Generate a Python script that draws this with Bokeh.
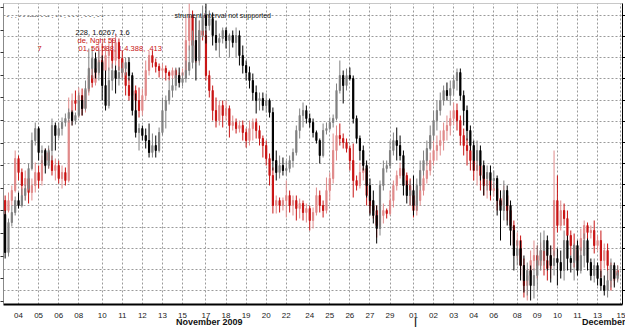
from bokeh.plotting import figure
from bokeh.models import Range1d, LinearAxis, FixedTicker, ColumnDataSource
from bokeh.core.properties import value
from bokeh.embed import file_html
from bokeh.resources import INLINE

# ---- data (prices in 1e-4 units, 4-hour bars, Nov 3 - Dec 14 2009) ----
session_days = ["03", "04", "05", "06", "08", "09", "10", "11", "12", "13", "15", "16",
                "17", "18", "19", "20", "22", "23", "24", "25", "26", "27", "29", "30",
                "01", "02", "03", "04", "06", "07", "08", "09", "10", "11", "13", "14", "15"]
bars_per_day = [4, 6, 6, 6, 1, 6, 6, 6, 6, 6, 1, 6, 6, 6, 6, 6, 1, 6, 6, 6, 6, 6, 1, 6,
                6, 6, 6, 6, 1, 6, 6, 6, 6, 6, 1, 6, 0]
month_labels = ["November 2009", "|", "December"]

# black instrument (right axis)
black_open = [16386,16348,16378,16388,16400,16395,16405,16412,16432,16460,
16472,16448,16450,16435,16450,16475,16465,16472,16478,16482,
16488,16480,16485,16500,16492,16512,16532,16542,16528,16538,
16515,16495,16520,16530,16522,16528,16532,16538,16525,16490,
16468,16472,16465,16460,16448,16455,16450,16468,16490,16500,
16510,16515,16525,16518,16522,16530,16538,16560,16540,16570,
16585,16575,16582,16565,16558,16562,16570,16560,16565,16558,
16565,16545,16535,16528,16520,16508,16500,16502,16495,16500,
16488,16440,16428,16435,16430,16432,16440,16448,16470,16485,
16490,16482,16478,16468,16460,16445,16470,16472,16478,16482,
16510,16525,16515,16525,16522,16482,16462,16450,16435,16415,
16400,16385,16372,16415,16432,16435,16450,16460,16455,16445,
16415,16405,16410,16395,16415,16430,16440,16452,16465,16480,
16490,16500,16510,16505,16512,16520,16528,16505,16490,16470,
16455,16440,16450,16435,16422,16428,16420,16422,16400,16390,
16410,16395,16370,16345,16352,16335,16320,16330,16315,16325,
16340,16350,16360,16345,16335,16342,16338,16330,16360,16342,
16338,16355,16330,16345,16360,16338,16325,16335,16322,16315,
16310,16320,16335,16322]
black_high = [16390,16382,16395,16404,16408,16412,16416,16437,16468,16478,
16474,16455,16452,16455,16482,16478,16478,16483,16487,16492,
16490,16488,16508,16505,16520,16552,16553,16548,16550,16545,
16530,16533,16537,16535,16534,16538,16543,16543,16528,16507,
16477,16475,16472,16477,16467,16465,16473,16503,16505,16520,
16522,16533,16533,16528,16540,16555,16570,16583,16580,16595,
16597,16590,16588,16580,16567,16573,16573,16567,16570,16573,
16570,16555,16540,16534,16527,16515,16508,16508,16507,16502,
16493,16450,16445,16443,16440,16445,16452,16475,16492,16498,
16495,16487,16482,16470,16462,16477,16478,16483,16486,16517,
16540,16530,16532,16533,16525,16485,16465,16455,16440,16422,
16410,16395,16420,16440,16440,16460,16468,16473,16465,16450,
16420,16420,16425,16422,16440,16450,16460,16475,16490,16500,
16508,16515,16518,16520,16525,16532,16532,16510,16495,16475,
16460,16460,16455,16440,16435,16435,16430,16425,16410,16420,
16415,16400,16375,16360,16360,16345,16338,16335,16332,16355,
16368,16370,16365,16355,16350,16352,16350,16370,16365,16345,
16357,16360,16353,16367,16362,16342,16342,16338,16330,16325,
16330,16342,16338,16335]
black_low = [16342,16344,16374,16385,16392,16393,16400,16410,16430,16455,
16440,16437,16427,16432,16440,16450,16462,16465,16474,16478,
16475,16476,16483,16485,16490,16508,16522,16522,16520,16500,
16490,16492,16510,16507,16515,16520,16525,16520,16485,16463,
16450,16460,16452,16443,16443,16443,16448,16465,16472,16496,
16503,16510,16513,16514,16518,16525,16532,16520,16535,16563,
16557,16570,16555,16550,16543,16557,16552,16543,16553,16543,
16535,16527,16520,16512,16500,16487,16490,16490,16488,16483,
16430,16420,16422,16425,16425,16428,16433,16445,16462,16473,
16477,16473,16463,16457,16437,16443,16466,16470,16473,16480,
16507,16497,16510,16520,16477,16457,16440,16430,16403,16385,
16377,16357,16365,16410,16428,16432,16445,16440,16440,16405,
16397,16395,16385,16390,16410,16425,16435,16450,16460,16470,
16485,16495,16500,16495,16505,16510,16500,16475,16460,16450,
16430,16430,16420,16405,16410,16405,16412,16385,16360,16380,
16375,16355,16330,16335,16320,16308,16305,16300,16302,16310,
16330,16335,16330,16318,16325,16315,16322,16320,16330,16328,
16320,16325,16327,16333,16330,16320,16318,16315,16310,16305,
16303,16313,16313,16318]
black_close = [16348,16378,16388,16400,16395,16405,16412,16432,16460,16472,
16448,16450,16435,16450,16475,16465,16472,16478,16482,16488,
16480,16485,16500,16492,16512,16532,16542,16528,16538,16515,
16495,16520,16530,16522,16528,16532,16538,16525,16490,16468,
16472,16465,16460,16448,16455,16450,16468,16490,16500,16510,
16515,16525,16518,16522,16530,16538,16560,16540,16570,16585,
16575,16582,16565,16558,16562,16570,16560,16565,16558,16565,
16545,16535,16528,16520,16508,16500,16502,16495,16500,16488,
16440,16428,16435,16430,16432,16440,16448,16470,16485,16490,
16482,16478,16468,16460,16445,16470,16472,16478,16482,16510,
16525,16515,16525,16522,16482,16462,16450,16435,16415,16400,
16385,16372,16415,16432,16435,16450,16460,16455,16445,16415,
16405,16410,16395,16415,16430,16440,16452,16465,16480,16490,
16500,16510,16505,16512,16520,16528,16505,16490,16470,16455,
16440,16450,16435,16422,16428,16420,16422,16400,16390,16410,
16395,16370,16345,16352,16335,16320,16330,16315,16325,16340,
16350,16360,16345,16335,16342,16338,16330,16360,16342,16338,
16355,16330,16345,16360,16338,16325,16335,16322,16315,16310,
16320,16335,16322,16328]

# red instrument (left axis)
red_open = [14800,14790,14800,14810,14842,14828,14815,14822,14808,14815,
14828,14820,14840,14848,14840,14830,14835,14822,14828,14820,
14880,14900,14897,14905,14892,14910,14925,14918,14932,14940,
14930,14945,14950,14940,14958,14942,14928,14915,14905,14910,
14900,14890,14905,14930,14945,14938,14934,14930,14932,14928,
14925,14930,14922,14925,14928,14960,14985,14955,14942,14970,
14965,14925,14910,14890,14880,14895,14885,14892,14875,14878,
14872,14875,14868,14860,14872,14878,14870,14862,14855,14842,
14825,14795,14800,14795,14800,14805,14795,14800,14792,14797,
14788,14792,14780,14788,14805,14795,14790,14810,14822,14850,
14865,14862,14858,14852,14840,14820,14815,14828,14832,14805,
14795,14790,14775,14785,14790,14787,14800,14815,14825,14832,
14825,14815,14805,14790,14800,14810,14822,14830,14840,14850,
14855,14860,14870,14875,14882,14890,14880,14865,14855,14850,
14840,14830,14835,14825,14815,14820,14810,14812,14802,14795,
14805,14790,14775,14755,14760,14735,14715,14725,14740,14745,
14735,14750,14740,14732,14745,14800,14775,14790,14782,14765,
14755,14740,14750,14762,14775,14768,14770,14755,14760,14740,
14750,14735,14720,14730]
red_high = [14805,14808,14815,14850,14845,14832,14830,14825,14822,14838,
14835,14845,14852,14852,14845,14842,14840,14835,14833,14903,
14907,14910,14913,14912,14915,14933,14932,14940,14955,14957,
14955,14960,14962,14967,14962,14950,14933,14922,14920,14915,
14913,14912,14940,14950,14950,14942,14937,14937,14935,14930,
14933,14932,14928,14932,14983,14997,14990,14960,14980,14980,
14970,14930,14915,14903,14900,14900,14900,14895,14885,14882,
14880,14880,14872,14880,14882,14882,14875,14865,14860,14847,
14833,14805,14803,14803,14820,14810,14805,14805,14802,14800,
14797,14795,14793,14813,14810,14800,14823,14828,14867,14875,
14877,14867,14862,14855,14857,14825,14838,14840,14835,14810,
14800,14795,14797,14797,14792,14810,14820,14830,14838,14837,
14828,14822,14812,14810,14820,14830,14840,14848,14860,14865,
14870,14878,14885,14890,14898,14897,14885,14872,14862,14855,
14845,14842,14840,14830,14828,14825,14818,14820,14810,14815,
14810,14795,14780,14768,14765,14742,14732,14750,14760,14755,
14758,14755,14750,14755,14850,14825,14800,14797,14790,14770,
14767,14760,14772,14780,14778,14775,14780,14765,14770,14757,
14757,14738,14737,14735]
red_low = [14785,14788,14795,14808,14820,14805,14800,14797,14800,14808,
14812,14815,14833,14832,14825,14820,14817,14812,14815,14818,
14875,14890,14883,14885,14888,14905,14913,14915,14925,14920,
14922,14930,14932,14935,14930,14923,14905,14900,14890,14888,
14883,14885,14900,14925,14933,14928,14923,14922,14920,14920,
14921,14918,14917,14922,14925,14950,14940,14938,14938,14960,
14920,14903,14880,14873,14875,14873,14880,14863,14870,14867,
14868,14860,14853,14855,14860,14862,14855,14843,14835,14815,
14787,14787,14788,14790,14783,14788,14785,14780,14782,14780,
14778,14770,14772,14785,14788,14783,14787,14800,14817,14840,
14855,14852,14848,14830,14803,14810,14812,14820,14795,14787,
14782,14763,14772,14777,14782,14785,14793,14810,14822,14818,
14810,14795,14783,14785,14795,14805,14817,14825,14835,14840,
14845,14850,14860,14865,14875,14870,14855,14845,14835,14830,
14820,14815,14810,14805,14802,14800,14804,14790,14785,14790,
14780,14765,14745,14742,14725,14703,14700,14715,14730,14722,
14730,14725,14720,14722,14738,14768,14770,14775,14755,14745,
14733,14735,14745,14747,14760,14762,14747,14750,14723,14732,
14720,14710,14715,14720]
red_close = [14790,14800,14810,14842,14828,14815,14822,14808,14815,14828,
14820,14840,14848,14840,14830,14835,14822,14828,14820,14880,
14900,14897,14905,14892,14910,14925,14918,14932,14940,14930,
14945,14950,14940,14958,14942,14928,14915,14905,14910,14900,
14890,14905,14930,14945,14938,14934,14930,14932,14928,14925,
14930,14922,14925,14928,14960,14985,14955,14942,14970,14965,
14925,14910,14890,14880,14895,14885,14892,14875,14878,14872,
14875,14868,14860,14872,14878,14870,14862,14855,14842,14825,
14795,14800,14795,14800,14805,14795,14800,14792,14797,14788,
14792,14780,14788,14805,14795,14790,14810,14822,14850,14865,
14862,14858,14852,14840,14820,14815,14828,14832,14805,14795,
14790,14775,14785,14790,14787,14800,14815,14825,14832,14825,
14815,14805,14790,14800,14810,14822,14830,14840,14850,14855,
14860,14870,14875,14882,14890,14880,14865,14855,14850,14840,
14830,14835,14825,14815,14820,14810,14812,14802,14795,14805,
14790,14775,14755,14760,14735,14715,14725,14740,14745,14735,
14750,14740,14732,14745,14800,14775,14790,14782,14765,14755,
14740,14750,14762,14775,14768,14770,14755,14760,14740,14750,
14735,14720,14730,14725]

PIP = 10000.0

# ---- figure ----
p = figure(frame_width=619, frame_height=301,
           x_range=Range1d(0.51, 185.45),
           y_range=Range1d(1.6296, 1.6597),
           y_axis_location="right",
           output_backend="svg", toolbar_location=None,
           min_border_left=0, min_border_right=0, min_border_top=3, min_border_bottom=0,
           background_fill_color="white", border_fill_color="white")
p.extra_y_ranges = {"red": Range1d(1.4696, 1.4997)}
p.outline_line_color = "#c8c8c8"

# right (black) axis - ticks only, labels not drawn
ryax = p.yaxis[0]
ryax.ticker = FixedTicker(ticks=[1.6585 - 0.002115 * k for k in range(14)])
ryax.major_label_text_font_size = "1px"
ryax.major_label_text_color = None
ryax.major_label_standoff = 0
ryax.major_tick_out = 3
ryax.major_tick_in = 0
ryax.minor_tick_line_color = None
ryax.minor_tick_out = 0
ryax.axis_line_color = "black"
ryax.major_tick_line_color = "black"

# left (red) axis - ticks only, labels not drawn
lyax = LinearAxis(y_range_name="red",
                  ticker=FixedTicker(ticks=[1.4993 - 0.00226 * k for k in range(14)]),
                  major_label_text_font_size="1px", major_label_text_color=None,
                  major_label_standoff=0,
                  major_tick_out=3, major_tick_in=0, minor_tick_line_color=None,
                  minor_tick_out=0,
                  axis_line_color="#888888", major_tick_line_color="#333333")
p.add_layout(lyax, "left")

# day axis
starts = []
pos = 1
for n in bars_per_day:
    starts.append(pos)
    pos += n
day_ticks, day_over = [], {}
for i, d in enumerate(session_days):
    if i > 0 and bars_per_day[i - 1] != 1:
        day_ticks.append(starts[i])
        day_over[starts[i]] = d
xax = p.xaxis[0]
xax.ticker = FixedTicker(ticks=day_ticks)
xax.major_label_overrides = day_over
xax.major_tick_line_color = None
xax.major_tick_out = 0
xax.major_tick_in = 0
xax.minor_tick_line_color = None
xax.minor_tick_out = 0
xax.minor_tick_in = 0
xax.axis_line_color = "black"
xax.axis_line_width = 2
xax.major_label_standoff = 8
xax.major_label_text_font = "Liberation Sans"
xax.major_label_text_font_size = "8px"
xax.major_label_text_color = "#222222"

# month axis (month names and the month separator)
max_ax = LinearAxis(ticker=FixedTicker(ticks=[62.0, 123.6, 180.0]),
                    major_label_overrides={62.0: month_labels[0], 123.6: month_labels[1],
                                           180.0: month_labels[2]},
                    axis_line_color=None, major_tick_line_color=None,
                    major_tick_out=0, major_tick_in=0,
                    minor_tick_line_color=None, minor_tick_out=0, minor_tick_in=0,
                    major_label_standoff=-4, major_label_text_font="Liberation Sans",
                    major_label_text_font_size="9px", major_label_text_font_style="bold",
                    major_label_text_color="#111111")
p.add_layout(max_ax, "below")

# grids
p.xgrid.ticker = FixedTicker(ticks=day_ticks)
for g in (p.xgrid, p.ygrid):
    g.grid_line_color = "#9a9a9a"
    g.grid_line_dash = "2 2"
    g.grid_line_width = 1


def candles(o, h, l, c, up_col, dn_col, rng):
    x = list(range(1, len(c) + 1))
    o = [v / PIP for v in o]
    h = [v / PIP for v in h]
    l = [v / PIP for v in l]
    c = [v / PIP for v in c]
    col = [up_col if cc > oo else dn_col for oo, cc in zip(o, c)]
    src = ColumnDataSource(dict(x=x, h=h, l=l,
                                top=[max(a, b) for a, b in zip(o, c)],
                                bot=[min(a, b) for a, b in zip(o, c)],
                                col=col))
    p.segment(x0="x", y0="l", x1="x", y1="h", line_color="col", line_width=1,
              source=src, y_range_name=rng)
    p.vbar(x="x", width=0.35, top="top", bottom="bot", fill_color="col",
           line_color="col", line_width=1, source=src, y_range_name=rng)


candles(red_open, red_high, red_low, red_close, "#e08a8a", "#c81414", "red")
candles(black_open, black_high, black_low, black_close, "#808080", "#000000", "default")

# overlay texts (data-window remnants)
def ty(py):
    return 1.6600 - py / PIP

def tx(px):
    return (px - 1.3) / 3.347

p.text(x=[tx(6)], y=[ty(15)],
       text=["-     .    .   - -   -----   - --        .  - -   .  - - -  .          - -   . - -"],
       text_font=value("Liberation Sans"), text_font_size="7px", text_color="#333333",
       text_baseline="middle", text_align="left")
p.text(x=[tx(174)], y=[ty(15)], text=["strument interval not supported"],
       text_font=value("Liberation Sans"), text_font_size="7px", text_color="#111111",
       text_baseline="middle", text_align="left")
p.text(x=[tx(75)], y=[ty(32)], text=["228, 1.6267, 1.6"],
       text_font=value("Liberation Sans"), text_font_size="7.5px", text_color="#111111",
       text_baseline="middle", text_align="left")
p.text(x=[tx(77), tx(78), tx(37)], y=[ty(40), ty(48), ty(48)],
       text=["de, Nght 59", "01, 56.588, 1.4.388,    .413", "7"],
       text_font=value("Liberation Sans"), text_font_size="7.5px", text_color="#c81414",
       text_baseline="middle", text_align="left")

open("out.html", "w").write(file_html(p, INLINE))
